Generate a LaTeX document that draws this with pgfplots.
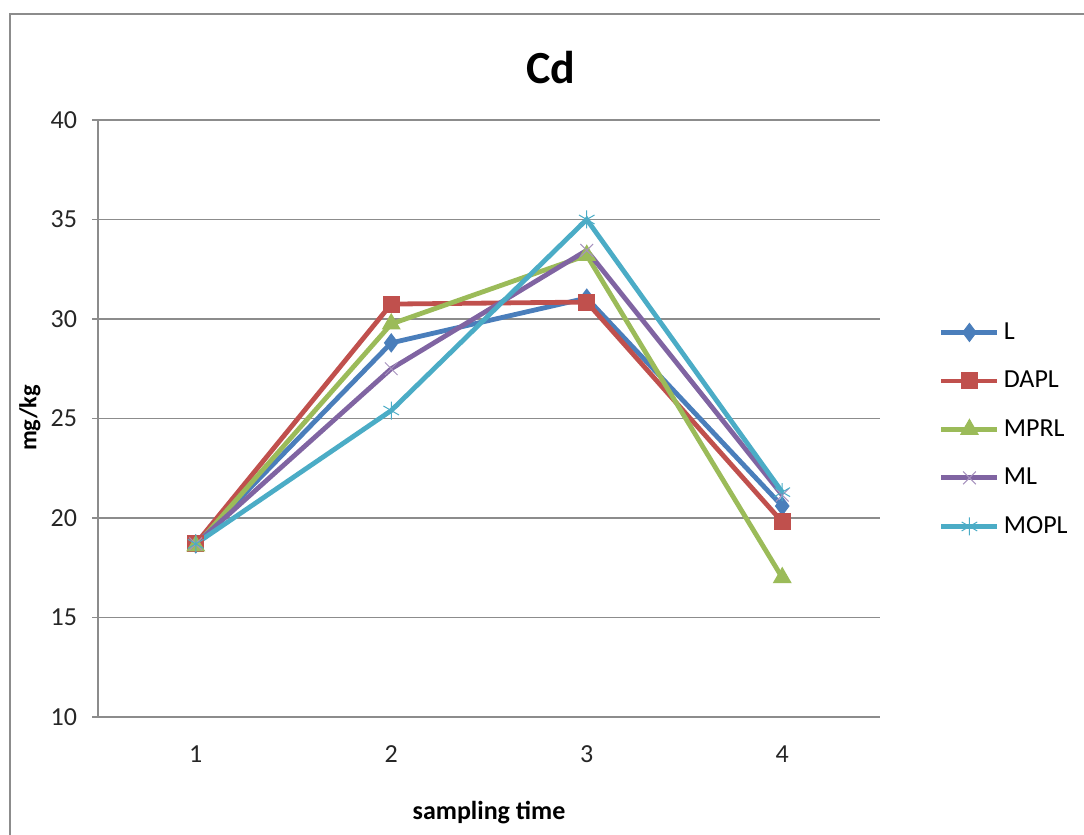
\documentclass[border=0pt]{standalone}
\usepackage{pgfplots}
\pgfplotsset{compat=1.18}
\usepackage{fontspec}
\setmainfont{Carlito}
\definecolor{cL}{HTML}{4A7EBB}
\definecolor{cD}{HTML}{C0504D}
\definecolor{cM}{HTML}{9BBB59}
\definecolor{cML}{HTML}{8064A2}
\definecolor{cMO}{HTML}{4BACC6}
\definecolor{gridc}{HTML}{8C8C8C}
\begin{document}
\begin{tikzpicture}[x=1pt,y=1pt]
\useasboundingbox (0,0) rectangle (542,417.5);
\draw[gridc, line width=1pt] (5,0) -- (5,410.5) -- (542,410.5);
\begin{axis}[
  at={(49pt,59pt)}, anchor=south west,
  scale only axis, width=391pt, height=298.5pt,
  xmin=0.5, xmax=4.5, ymin=10, ymax=40,
  xtick={1,2,3,4}, xticklabels={1,2,3,4},
  xtick style={draw=none},
  extra x ticks={0.5,1.5,2.5,3.5,4.5}, extra x tick labels={},
  extra x tick style={major tick length=3pt, tick align=outside, tick style={draw=gridc, line width=0.6pt}, grid=none},
  ytick={10,15,...,40},
  ytick style={draw=gridc, line width=0.6pt},
  tick align=outside, major tick length=3pt,
  ymajorgrids, grid style={gridc, line width=0.6pt},
  axis x line*=bottom, axis y line*=left,
  axis line style={gridc, line width=0.6pt, -},
  tick label style={font=\fontsize{13}{15}\selectfont, text=black!85},
  /pgf/number format/assume math mode=true,
  xticklabel style={yshift=-8pt},
  yticklabel style={xshift=-4pt},
  legend style={draw=none, fill=none, at={(1.075,0.668)}, anchor=north west,
    font=\fontsize{13}{15}\selectfont, row sep=10.4pt, inner sep=0pt, cells={anchor=west}},
  legend image code/.code={\draw[mark repeat=2,mark phase=2] plot coordinates {(0pt,0pt)(14pt,0pt)(28pt,0pt)};},
  every axis plot/.append style={line width=2.4pt},
]
\addplot[cL, mark=diamond*, mark size=4.5pt, mark options={line width=0.5pt, fill=cL}] coordinates {(1,18.7) (2,28.8) (3,31.05) (4,20.6)};
\addlegendentry{L}
\addplot[cD, mark=square*, mark size=4pt, mark options={line width=0.5pt, fill=cD}] coordinates {(1,18.7) (2,30.75) (3,30.85) (4,19.8)};
\addlegendentry{DAPL}
\addplot[cM, mark=triangle*, mark size=5pt, mark options={line width=0.5pt, fill=cM}] coordinates {(1,18.6) (2,29.75) (3,33.2) (4,17.0)};
\addlegendentry{MPRL}
\addplot[cML, mark=x, mark size=4.5pt, mark options={line width=0.5pt, draw=cML!70}] coordinates {(1,18.7) (2,27.5) (3,33.45) (4,21.15)};
\addlegendentry{ML}
\addplot[cMO, mark=asterisk, mark size=4.5pt, mark options={line width=0.5pt}] coordinates {(1,18.7) (2,25.4) (3,35.0) (4,21.3)};
\addlegendentry{MOPL}
\end{axis}
\node[font=\bfseries\fontsize{23}{26}\selectfont] at (275.5,383.5) {Cd};
\node[font=\bfseries\fontsize{12.2}{14}\selectfont, rotate=90] at (15,208.5) {mg/kg};
\node[font=\bfseries\fontsize{13}{15}\selectfont] at (244.5,11) {sampling time};
\end{tikzpicture}
\end{document}
